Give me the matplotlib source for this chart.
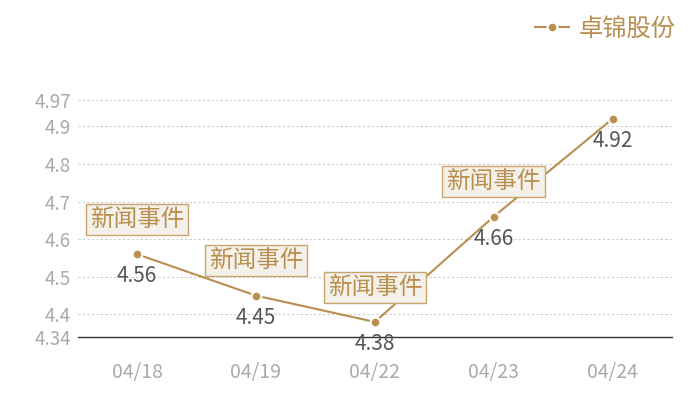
import matplotlib
matplotlib.use("Agg")
import matplotlib.pyplot as plt

plt.rcParams['font.family'] = ['Noto Sans CJK SC', 'DejaVu Sans']

dates = ["04/18", "04/19", "04/22", "04/23", "04/24"]
prices = [4.56, 4.45, 4.38, 4.66, 4.92]
news_idx = [0, 1, 2, 3]
y_ticks = [4.34, 4.4, 4.5, 4.6, 4.7, 4.8, 4.9, 4.97]
series_name = "卓锦股份"
news_label = "新闻事件"

gold = "#b98f4f"

fig = plt.figure(figsize=(7, 4), dpi=100)
ax = fig.add_axes([0.111, 0.1575, 0.849, 0.5925])

x = list(range(len(dates)))
ax.plot(x, prices, color=gold, lw=1.5, marker="o", markersize=7,
        markerfacecolor=gold, markeredgecolor="white", markeredgewidth=1.5,
        label=series_name, zorder=3)

for i in x:
    ax.annotate(f"{prices[i]:.2f}", (i, prices[i]), xytext=(0, -16),
                textcoords="offset points", ha="center", va="center",
                fontsize=15, color="#555555", zorder=4)

for i in news_idx:
    ax.annotate(news_label, (i, prices[i]), xytext=(0, 25),
                textcoords="offset points", ha="center", va="center",
                fontsize=17, color=gold, zorder=5,
                bbox=dict(boxstyle="square,pad=0.17", fc="#f4f0ea",
                          ec="#c9a46e", lw=1))

ax.set_xlim(-0.5, len(dates) - 0.5)
ax.set_ylim(4.34, 4.97)
ax.set_xticks(x)
ax.set_xticklabels(dates)
ax.set_yticks(y_ticks)
ax.set_yticklabels([f"{v:g}" for v in y_ticks])
ax.tick_params(axis="x", length=0, labelsize=14, colors="#aaaaaa", pad=18)
ax.tick_params(axis="y", length=0, labelsize=13.5, colors="#aaaaaa", pad=5)

for v in y_ticks[1:]:
    ax.axhline(v, color="#cccccc", lw=0.8, ls=(0, (2, 2)), zorder=1)

for s in ["top", "right", "left"]:
    ax.spines[s].set_visible(False)
ax.spines["bottom"].set_color("#333333")
ax.spines["bottom"].set_linewidth(1)

leg = fig.legend(loc="upper right", bbox_to_anchor=(0.997, 1.015), frameon=False,
                 fontsize=17.5, handlelength=1.4, handletextpad=0.4)
for t in leg.get_texts():
    t.set_color(gold)

fig.savefig("out.png", dpi=100)
